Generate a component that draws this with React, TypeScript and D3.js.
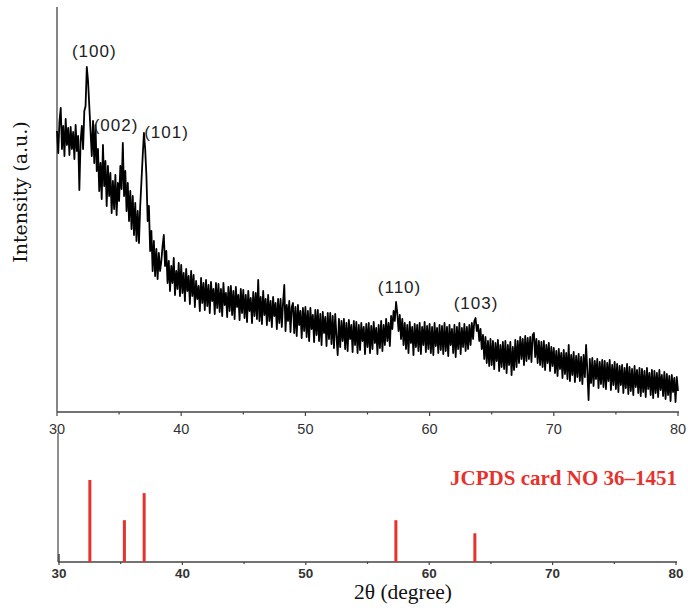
import React from "react";
import * as d3 from "d3";

// XRD pattern sampled every 0.1° from 30° to 80° (intensity, a.u.), one row per degree
const START_DEG = 30;
const STEP_DEG = 0.1;
const intensity = [
  280, 258, 290, 303, 262, 285, 255, 292, 266, 283, // 30
  256, 284, 262, 279, 252, 286, 260, 275, 221, 270, // 31
  285, 262, 300, 305, 344, 330, 305, 280, 255, 290, // 32
  248, 286, 240, 262, 220, 248, 212, 266, 225, 250, // 33
  205, 245, 215, 238, 198, 230, 202, 236, 196, 228, // 34
  210, 245, 222, 268, 215, 240, 200, 228, 190, 220, // 35
  182, 215, 176, 208, 170, 200, 168, 205, 230, 255, // 36
  278, 262, 235, 190, 205, 160, 180, 140, 170, 135, // 37
  162, 132, 158, 140, 150, 165, 176, 145, 160, 128, // 38
  150, 120, 145, 128, 153, 116, 140, 122, 148, 115, // 39
  146, 118, 138, 110, 142, 120, 135, 107, 140, 115, // 40
  136, 104, 130, 112, 125, 100, 133, 108, 128, 101, // 41
  131, 105, 126, 98, 129, 110, 122, 97, 128, 103, // 42
  127, 99, 122, 95, 128, 106, 118, 94, 124, 100, // 43
  125, 96, 120, 92, 124, 104, 116, 91, 122, 98, // 44
  121, 93, 116, 89, 120, 100, 113, 88, 119, 95, // 45
  118, 92, 131, 90, 114, 87, 120, 96, 112, 86, // 46
  116, 90, 110, 84, 114, 95, 108, 82, 112, 88, // 47
  112, 84, 108, 126, 80, 106, 90, 110, 79, 104, // 48
  108, 78, 104, 75, 106, 86, 100, 73, 103, 80, // 49
  104, 74, 100, 70, 103, 82, 96, 69, 101, 76, // 50
  101, 70, 97, 66, 99, 78, 94, 65, 98, 72, // 51
  98, 67, 95, 63, 97, 75, 56, 92, 64, 90, // 52
  70, 92, 62, 88, 60, 91, 72, 86, 59, 90, // 53
  66, 89, 58, 86, 61, 88, 70, 84, 57, 87, // 54
  64, 88, 58, 85, 62, 89, 68, 83, 57, 86, // 55
  63, 90, 60, 86, 66, 92, 70, 88, 65, 95, // 56
  82, 100, 90, 109, 98, 80, 96, 72, 92, 66, // 57
  88, 62, 86, 58, 89, 68, 84, 56, 87, 64, // 58
  86, 60, 88, 57, 84, 66, 89, 59, 85, 62, // 59
  87, 58, 84, 56, 88, 65, 83, 58, 86, 61, // 60
  85, 57, 88, 60, 84, 55, 86, 66, 82, 58, // 61
  86, 54, 84, 62, 88, 57, 83, 64, 87, 60, // 62
  84, 62, 86, 66, 88, 72, 90, 93, 80, 86, // 63
  70, 82, 62, 76, 52, 74, 48, 70, 45, 72, // 64
  46, 70, 42, 68, 50, 71, 40, 66, 44, 69, // 65
  42, 70, 38, 66, 46, 69, 36, 64, 41, 71, // 66
  44, 70, 48, 74, 52, 72, 46, 75, 50, 73, // 67
  52, 74, 49, 76, 78, 54, 72, 48, 70, 46, // 68
  69, 44, 70, 41, 66, 48, 68, 40, 64, 45, // 69
  63, 38, 60, 35, 62, 42, 58, 33, 61, 37, // 70
  58, 32, 66, 30, 56, 36, 59, 29, 55, 34, // 71
  57, 30, 54, 27, 56, 34, 66, 40, 11, 52, // 72
  28, 53, 25, 50, 32, 52, 23, 49, 27, 51, // 73
  24, 50, 22, 48, 30, 51, 21, 46, 26, 49, // 74
  22, 47, 19, 45, 26, 46, 18, 43, 23, 47, // 75
  17, 44, 20, 42, 16, 45, 24, 41, 18, 43, // 76
  15, 42, 19, 40, 14, 43, 22, 38, 16, 41, // 77
  13, 40, 18, 38, 14, 41, 21, 36, 15, 39, // 78
  12, 37, 16, 35, 10, 36, 19, 33, 9, 34, // 79
  20, // 80
];

const peakLabels = ["(100)", "(002)", "(101)", "(110)", "(103)"];
const peakLabelDeg = [33.0, 34.75, 38.82, 57.58, 63.74];
const peakLabelInt = [354, 280, 273, 118, 102];

const refDeg = [32.5, 35.3, 36.9, 57.3, 63.7];
const refInt = [100, 51, 84, 51, 35];
const refCaption = "JCPDS card NO 36\u20131451";

const majorTicks = [30, 40, 50, 60, 70, 80];
const minorTicks = [35, 45, 55, 65, 75];

const xTitle = "2\u03b8 (degree)";
const yTitle = "Intensity (a.u.)";

const W = 688;
const H = 610;

export default function App() {
  const xTop = d3.scaleLinear().domain([30, 80]).range([57, 678]);
  const yTop = d3.scaleLinear().domain([0, 403]).range([411, 8]);
  const xBot = d3.scaleLinear().domain([30, 80]).range([59, 676]);
  const yBot = d3.scaleLinear().domain([0, 100]).range([562, 480]);

  const pts = intensity.map((v, i) => [START_DEG + i * STEP_DEG, v] as [number, number]);
  const line = d3
    .line<[number, number]>()
    .x((d) => xTop(d[0]))
    .y((d) => yTop(d[1]));

  const axisColor = "#444";
  const tickText = "#333";
  const red = "#e6322c";
  const topAxisY = 412;
  const botAxisY = 562;

  return (
    <svg
      width={W}
      height={H}
      style={{ position: "absolute", left: 0, top: 0, background: "#fff" }}
      xmlns="http://www.w3.org/2000/svg"
    >
      <rect x={0} y={0} width={W} height={H} fill="#fff" />
      {/* top panel axes */}
      <line x1={57} y1={7} x2={57} y2={topAxisY} stroke={axisColor} strokeWidth={1.3} />
      <line x1={57} y1={topAxisY} x2={679} y2={topAxisY} stroke={axisColor} strokeWidth={1.3} />
      {majorTicks.map((t) => (
        <g key={"tm" + t}>
          <line x1={xTop(t)} x2={xTop(t)} y1={topAxisY} y2={topAxisY + 4} stroke={axisColor} strokeWidth={1.2} />
          <text
            x={xTop(t)}
            y={434}
            textAnchor="middle"
            fontFamily="Liberation Sans, Arial, sans-serif"
            fontSize={14.5}
            fill={tickText}
          >
            {t}
          </text>
        </g>
      ))}
      {minorTicks.map((t) => (
        <line key={"tn" + t} x1={xTop(t)} x2={xTop(t)} y1={topAxisY} y2={topAxisY + 2.5} stroke={axisColor} strokeWidth={1.2} />
      ))}

      {/* XRD pattern */}
      <path d={line(pts) || ""} fill="none" stroke="#000" strokeWidth={1.8} strokeLinejoin="round" />

      {/* peak labels */}
      {peakLabels.map((lab, i) => (
        <text
          key={lab}
          x={xTop(peakLabelDeg[i])}
          y={yTop(peakLabelInt[i])}
          textAnchor="middle"
          fontFamily="Liberation Sans, Arial, sans-serif"
          fontSize={17}
          letterSpacing={1}
          fill="#222"
        >
          {lab}
        </text>
      ))}

      {/* y title */}
      <text
        transform="translate(27,192) rotate(-90)"
        textAnchor="middle"
        fontFamily="DejaVu Serif, serif"
        fontSize={19}
        fill="#111"
      >
        {yTitle}
      </text>

      {/* bottom panel */}
      <line x1={58} y1={433} x2={58} y2={botAxisY} stroke={axisColor} strokeWidth={1.2} />
      <line x1={58} y1={botAxisY} x2={677} y2={botAxisY} stroke={axisColor} strokeWidth={1.3} />
      <line x1={xBot(30)} x2={xBot(30)} y1={botAxisY} y2={botAxisY - 8} stroke={axisColor} strokeWidth={1.5} />
      {majorTicks.map((t) => (
        <g key={"bm" + t}>
          <line x1={xBot(t)} x2={xBot(t)} y1={botAxisY} y2={botAxisY + 3} stroke={axisColor} strokeWidth={1.2} />
          <text
            x={xBot(t)}
            y={578}
            textAnchor="middle"
            fontFamily="Liberation Sans, Arial, sans-serif"
            fontWeight="bold"
            fontSize={12}
            fill={tickText}
            transform={`translate(${xBot(t)},0) scale(1.12,1) translate(${-xBot(t)},0)`}
          >
            {t}
          </text>
        </g>
      ))}
      {minorTicks.map((t) => (
        <line key={"bn" + t} x1={xBot(t)} x2={xBot(t)} y1={botAxisY} y2={botAxisY + 2} stroke={axisColor} strokeWidth={1.2} />
      ))}
      {refDeg.map((d, i) => (
        <line
          key={"r" + i}
          x1={xBot(d)}
          x2={xBot(d)}
          y1={yBot(0)}
          y2={yBot(refInt[i])}
          stroke={red}
          strokeWidth={3}
        />
      ))}
      <text
        x={677}
        y={485}
        textAnchor="end"
        fontFamily="Liberation Serif, Times New Roman, serif"
        fontWeight="bold"
        fontSize={21}
        fill={red}
      >
        {refCaption}
      </text>

      {/* x title */}
      <text
        x={403}
        y={599}
        textAnchor="middle"
        fontFamily="Liberation Serif, Times New Roman, serif"
        fontSize={21.5}
        fill="#111"
      >
        {xTitle}
      </text>
    </svg>
  );
}
